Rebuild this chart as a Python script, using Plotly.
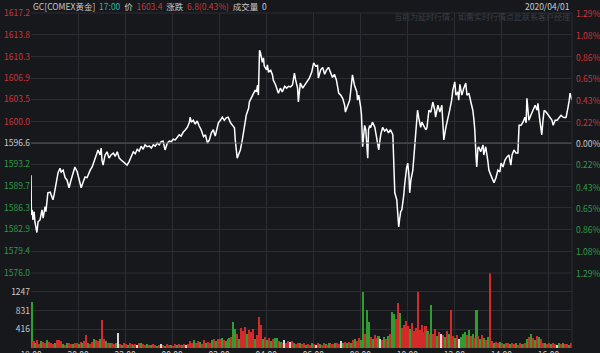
import plotly.graph_objects as go

# ---------------- data ----------------
price_minutes = [0,1,3,5,8,10,15,18,23,28,31,36,38,43,49,54,56,59,64,69,74,77,82,87,92,97,102,107,112,118,
    123,128,133,138,143,146,151,156,161,164,169,171,176,179,181,184,189,194,199,204,210,215,220,225,230,238,245,250,256,261,
    266,271,276,281,286,291,296,302,307,312,317,322,327,332,337,342,348,353,358,363,368,373,378,383,388,394,399,404,406,409,
    414,419,424,429,434,440,445,450,455,460,465,470,475,478,483,488,493,498,503,509,514,519,521,524,526,529,534,539,544,547,
    549,555,557,562,567,572,575,578,580,583,585,588,590,593,595,601,603,606,611,616,618,624,629,631,636,641,647,652,657,662,
    667,672,675,680,682,687,693,698,705,710,716,721,726,731,733,739,744,749,754,759,764,769,774,779,785,790,795,800,802,808,
    813,818,820,825,831,833,836,841,843,846,848,851,854,856,859,861,864,866,871,877,882,884,887,892,897,902,907,912,917,923,
    925,928,933,935,938,940,943,946,948,951,953,956,958,961,964,966,969,974,976,979,981,986,989,994,997,1002,1007,1010,1015,1020,
    1025,1030,1032,1038,1043,1048,1050,1053,1058,1063,1068,1073,1076,1081,1084,1089,1091,1094,1099,1104,1109,1112,1117,1122,1127,1130,
    1132,1135,1137,1140,1142,1147,1153,1155,1160,1165,1168,1173,1178,1181,1186,1191,1196,1199,1204,1209,1214,1219,1224,1227,1232,1237,
    1242,1245,1250,1255,1260,1263,1265,1268,1270,1275,1280,1286,1291,1293,1298,1301,1303,1306,1309,1314,1319,1324,1329,1332,1337,1342,
    1347,1352,1357,1362,1365,1368,1370,1373,1375,1378,1380]
price_values = [1591.5,1585.2,1586.0,1584.4,1585.7,1584.1,1582.4,1584.1,1584.4,1586.0,1584.7,1586.5,1585.7,1588.7,1588.8,1587.9,1587.6,1588.4,1590.4,1591.9,
    1592.6,1592.0,1592.3,1591.1,1590.7,1589.5,1590.7,1591.7,1592.8,1592.0,1590.7,1589.5,1590.4,1591.2,1591.1,1591.7,1592.3,1592.8,1593.6,1594.2,
    1595.2,1595.5,1594.7,1595.8,1593.9,1593.1,1594.7,1595.2,1594.2,1594.7,1595.0,1594.5,1595.2,1594.2,1593.9,1593.4,1593.1,1593.6,1594.4,1595.2,
    1594.9,1595.6,1595.3,1596.1,1595.6,1596.3,1596.0,1596.1,1595.8,1596.3,1596.1,1596.6,1596.3,1596.8,1596.9,1595.5,1596.6,1596.9,1596.8,1597.2,
    1597.1,1597.5,1597.9,1597.7,1598.3,1598.7,1599.1,1599.9,1600.7,1599.9,1600.2,1599.6,1600.1,1599.3,1598.7,1597.6,1597.9,1596.6,1597.1,1598.2,
    1598.7,1597.7,1598.9,1599.8,1600.2,1600.7,1600.2,1600.6,1600.7,1599.8,1599.4,1599.0,1597.1,1595.8,1594.2,1594.7,1595.5,1597.1,1598.7,1600.2,
    1601.0,1602.1,1603.1,1603.9,1604.4,1605.0,1604.7,1605.8,1604.2,1611.3,1611.0,1610.1,1609.4,1610.1,1608.8,1608.2,1609.0,1607.8,1608.2,1607.4,
    1606.6,1605.8,1605.0,1604.5,1605.3,1604.7,1605.6,1605.3,1605.6,1605.5,1605.8,1607.7,1606.6,1605.3,1603.1,1606.1,1605.3,1605.8,1606.3,1606.9,
    1607.8,1609.3,1608.8,1608.9,1606.9,1608.2,1608.6,1607.5,1608.2,1608.6,1607.8,1607.0,1607.5,1606.6,1604.5,1604.2,1603.7,1602.6,1601.5,1602.6,
    1603.4,1606.3,1607.4,1605.8,1604.7,1603.4,1604.2,1602.3,1601.0,1596.0,1597.9,1599.4,1598.7,1597.1,1594.2,1598.7,1599.4,1599.0,1599.9,1599.1,
    1597.1,1596.0,1595.5,1597.9,1599.1,1598.5,1598.8,1598.2,1598.7,1597.9,1593.1,1588.7,1587.6,1586.3,1583.3,1584.4,1585.7,1586.0,1586.8,1588.4,
    1589.9,1591.9,1592.6,1593.4,1591.5,1588.7,1590.7,1592.3,1593.9,1595.5,1597.9,1601.8,1600.6,1599.1,1599.9,1599.4,1598.7,1599.0,1601.8,1601.5,
    1603.1,1601.8,1600.7,1602.6,1601.5,1602.6,1599.8,1597.1,1599.0,1600.2,1601.8,1603.4,1605.0,1606.3,1604.2,1604.7,1603.4,1605.9,1604.2,1605.3,
    1606.1,1604.2,1604.5,1603.1,1601.8,1600.2,1598.7,1594.7,1592.8,1595.8,1596.0,1595.2,1596.3,1594.7,1596.0,1593.9,1592.3,1591.5,1590.7,1590.3,
    1591.1,1592.3,1592.0,1593.4,1592.8,1593.9,1594.4,1594.7,1593.1,1594.7,1595.5,1595.0,1595.0,1599.4,1599.4,1599.9,1600.7,1599.8,1603.7,1601.5,
    1600.2,1601.0,1601.8,1602.6,1601.8,1602.9,1600.2,1599.0,1597.9,1600.2,1601.8,1601.5,1601.0,1600.6,1600.2,1599.4,1600.2,1600.2,1600.6,1601.0,
    1600.7,1600.6,1600.7,1601.4,1602.3,1603.4,1604.5,1603.9,1603.4]

volumes = [1020,
    150,120,180,90,160,140,110,170,130,100,
    80,120,180,170,160,90,70,110,100,80,
    90,120,100,80,130,110,150,290,120,90,
    140,200,180,160,210,620,190,150,120,110,
    100,90,120,330,80,70,110,90,60,100,
    80,60,90,70,120,100,80,60,90,70,
    60,80,70,50,60,90,70,50,80,60,
    70,50,90,60,80,70,60,90,70,80,
    150,120,180,100,160,130,90,170,110,140,
    120,180,210,160,200,190,220,180,150,200,
    230,250,580,420,300,200,450,380,470,300,
    410,350,420,200,280,690,520,200,240,180,
    220,160,190,230,220,160,140,120,170,100,
    150,130,160,110,90,120,100,80,110,70,
    90,60,100,80,70,120,90,60,100,80,
    70,110,90,80,100,120,90,160,110,130,
    100,140,120,180,200,160,220,180,1240,300,
    840,580,250,200,280,220,260,200,180,240,
    200,260,300,800,760,650,1000,780,450,520,
    600,480,420,560,380,450,1240,400,520,350,
    480,380,300,950,320,420,260,360,300,280,
    250,380,300,840,260,220,280,200,240,300,
    350,280,400,260,320,220,840,260,200,280,
    220,180,250,1660,150,120,140,100,130,110,
    90,120,100,80,110,90,100,70,120,80,
    90,110,200,250,300,220,180,260,240,200,
    120,100,90,110,80,100,90,70,120,80,
    100,80,90,70,120]
vol_dirs = ("g"
    "rgrrgrrgrr" "rgrrrgrgrr" "grrgrgrrgr" "rgrrgrrgrg" "rrgwrgrrgr"
    "rgrwrgrrgr" "grrgrwrgrr" "grrgrrgrwr" "rrgrrgrrgr" "rgrgrrgrgg"
    "grggrgrrrg" "rrrgrrrgrg" "rgrggrgrwr" "rwrgrrgrrg" "rrgrwrgrrg"
    "rgrrgrrwgr" "grgrgrrggr" "ggrgrrgwrg" "rgrggrrgrr" "rrgrrrrrrr"
    "rgrgrrgrwr" "grgrrgrwgg" "grgrgrgrgr" "grgrrgrrgr" "grrgrrgrrg"
    "rrgrgrgrgr" "rgrrgrrwgr" "grrgr")
vol_bin_minutes = 5

time_tickvals = [0,120,240,360,480,600,720,840,960,1080,1200,1320]
time_ticktext = ["18:00","20:00","22:00","00:00","02:00","04:00","06:00","08:00","10:00","12:00","14:00","16:00"]

prev_close = 1596.6
price_ticks = ["1617.2","1613.8","1610.3","1606.9","1603.5","1600.0","1596.6","1593.2","1589.7","1586.3","1582.9","1579.4","1576.0"]
pct_ticks = ["1.29%","1.08%","0.86%","0.65%","0.43%","0.22%","0.00%","0.22%","0.43%","0.65%","0.86%","1.08%","1.29%"]
vol_ticks = [416, 831, 1247]
vol_max = 1663

# ---------------- styling ----------------
BG = "#17181c"
GRID = "#2b2d32"
RED = "#c8363b"
GREEN = "#2f9a48"
GREY = "#c9c9c9"
BAR_COL = {"r": "#d42a2a", "g": "#2e9f2e", "w": "#d8d8d8"}
FONT = "Noto Sans CJK SC, sans-serif"
FS = 8.5

def tone(value):
    if value > prev_close + 0.01:
        return RED
    if value < prev_close - 0.01:
        return GREEN
    return GREY

price_vals = [float(t) for t in price_ticks]
left_text = [f'<span style="color:{tone(v)}">{t}</span>' for t, v in zip(price_ticks, price_vals)]

vol_x = [i * vol_bin_minutes for i in range(len(volumes))]
vol_colors = [BAR_COL[c] for c in vol_dirs]

fig = go.Figure()
fig.add_trace(go.Bar(x=vol_x, y=volumes, marker=dict(color=vol_colors, line=dict(width=0)),
                     width=4.0, offset=0, xaxis="x", yaxis="y2", hoverinfo="skip"))
fig.add_trace(go.Scatter(x=price_minutes, y=price_values, mode="lines",
                         line=dict(color="#ffffff", width=1.5), xaxis="x2", yaxis="y", hoverinfo="skip"))

split = 75 / 335.0
fig.update_layout(
    width=600, height=353,
    margin=dict(l=31, r=28, t=13, b=5),
    paper_bgcolor=BG, plot_bgcolor=BG,
    showlegend=False, bargap=0,
    font=dict(family=FONT, size=FS, color=GREY),
    xaxis=dict(domain=[0, 1], range=[0, 1380], anchor="y2", tickvals=time_tickvals, ticktext=time_ticktext,
               showgrid=True, gridcolor=GRID, gridwidth=1, zeroline=False, ticks="", ticklen=0,
               tickfont=dict(size=FS, color=GREY), showline=False, automargin=False),
    xaxis2=dict(domain=[0, 1], range=[0, 1380], anchor="y", matches="x", tickvals=time_tickvals,
                showticklabels=False, showgrid=True, gridcolor=GRID, zeroline=False, automargin=False),
    yaxis=dict(domain=[split, 1], range=[1575.98, 1617.22], tickvals=price_vals, ticktext=left_text,
               showgrid=True, gridcolor=GRID, zeroline=False, ticks="", ticklen=0,
               tickfont=dict(size=FS), showline=False, automargin=False),
    yaxis2=dict(domain=[0, split], range=[0, vol_max], tickvals=vol_ticks, ticktext=[str(v) for v in vol_ticks],
                showgrid=True, gridcolor=GRID, zeroline=False, tickfont=dict(size=FS, color=GREY),
                automargin=False),
)

# right-hand percentage labels, placed on the price scale
for t, v in zip(pct_ticks, price_vals):
    fig.add_annotation(text=t, xref="paper", yref="y", x=1, y=v, xanchor="left", yanchor="middle",
                       xshift=2, showarrow=False, font=dict(size=FS, color=tone(v), family=FONT))

# highlighted previous-close line and borders
fig.add_shape(type="line", xref="x2", yref="y", x0=0, x1=1380, y0=prev_close, y1=prev_close,
              line=dict(color="#5a5b5f", width=1))
fig.add_shape(type="line", xref="paper", yref="paper", x0=0, x1=1, y0=1, y1=1, line=dict(color=GRID, width=1))
fig.add_shape(type="line", xref="paper", yref="paper", x0=1, x1=1, y0=0, y1=1, line=dict(color=GRID, width=1))
fig.add_shape(type="line", xref="paper", yref="paper", x0=0, x1=1, y0=split, y1=split, line=dict(color=GRID, width=1))

header = ('<span style="color:#c9c9c9">GC[COMEX黄金]</span>  '
          '<span style="color:#2fb3b0">17:00</span>  '
          '<span style="color:#c9c9c9">价</span>  '
          f'<span style="color:{RED}">1603.4</span>  '
          '<span style="color:#c9c9c9">涨跌</span>  '
          f'<span style="color:{RED}">6.8(0.43%)</span>  '
          '<span style="color:#c9c9c9">成交量</span>  '
          '<span style="color:#c9c9c9">0</span>')
fig.add_annotation(text=header, xref="paper", yref="paper", x=0.0, y=1 + 7 / 335, xanchor="left", yanchor="middle",
                   showarrow=False, font=dict(size=FS, family=FONT))
fig.add_annotation(text="2020/04/01", xref="paper", yref="paper", x=1.0, y=1 + 7.5 / 335, xanchor="right",
                   yanchor="middle", showarrow=False, font=dict(size=FS, color=GREY, family=FONT))
fig.add_annotation(text="当前为延时行情，如需实时行情点此联系客户经理", xref="paper", yref="paper", x=1.0,
                   y=1 - 3.5 / 335, xanchor="right", yanchor="middle", showarrow=False,
                   font=dict(size=8, color="#3c3e43", family=FONT))

fig.write_html("out.html")
